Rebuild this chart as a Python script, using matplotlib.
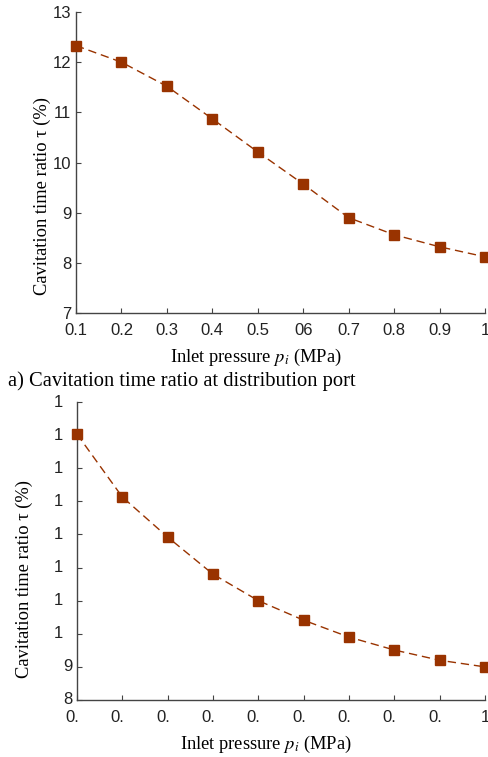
import matplotlib
matplotlib.use("Agg")
import matplotlib.pyplot as plt
from matplotlib.ticker import FixedLocator, FixedFormatter, NullFormatter
from matplotlib.transforms import ScaledTranslation, blended_transform_factory

# inlet pressure (MPa)
pressure = [0.1, 0.2, 0.3, 0.4, 0.5, 0.6, 0.7, 0.8, 0.9, 1.0]

# a) distribution port
ratio_port = [12.33, 12.0, 11.52, 10.87, 10.21, 9.57, 8.90, 8.56, 8.32, 8.12]
# b) second location
ratio_b = [16.03, 14.13, 12.92, 11.80, 11.0, 10.41, 9.90, 9.51, 9.20, 9.0]

top_xlabels = ["0.1", "0.2", "0.3", "0.4", "0.5", "06", "0.7", "0.8", "0.9", "1"]
top_yticks = [7, 8, 9, 10, 11, 12, 13]
bot_yticks = [8, 9, 10, 11, 12, 13, 14, 15, 16, 17]
# the bottom panel's tick labels are clipped in the original
bot_ylabels = ["8", "9", "1", "1", "1", "1", "1", "1", "1", "1"]
bot_xlabels = ["0.", "0.", "0.", "0.", "0.", "0.", "0.", "0.", "0.", "1"]
bot_xfull = ["0.1", "0.2", "0.3", "0.4", "0.5", "0.6", "0.7", "0.8", "0.9", "1"]

plt.rcParams["mathtext.fontset"] = "stix"
serif = "Liberation Serif"
sans = "Liberation Sans"
color = "#993300"
spine_c = "#444444"
tick_fs = 12
lab_fs = 13.3

fig = plt.figure(figsize=(4.89, 7.57), dpi=100)
W, H = 489, 757


def make_axes(l, t, r, b):
    return fig.add_axes([l / W, 1 - b / H, (r - l) / W, (b - t) / H])


def style(ax):
    for s in ["top", "right"]:
        ax.spines[s].set_visible(False)
    for s in ["left", "bottom"]:
        ax.spines[s].set_color(spine_c)
        ax.spines[s].set_linewidth(1.0)
    ax.tick_params(direction="in", length=3.6, width=0.8, color=spine_c,
                   labelcolor="#222222", labelsize=tick_fs)
    ax.tick_params(axis="x", pad=7)
    ax.tick_params(axis="y", pad=3.5)
    for lab in ax.get_xticklabels() + ax.get_yticklabels():
        lab.set_fontfamily(sans)


# width of a string in Liberation Sans (Arial metrics), in points
def str_width(s, fs):
    return sum(0.278 if c == "." else 0.556 for c in s) * fs


ax1 = make_axes(76, 12, 485, 313)
ax1.plot(pressure, ratio_port, "--", color=color, lw=1.0, dashes=(6, 3.5),
         marker="s", ms=6.5, mfc=color, mec=color, clip_on=False, zorder=3)
ax1.set_xlim(0.1, 1.0)
ax1.set_ylim(7, 13)
ax1.xaxis.set_major_locator(FixedLocator(pressure))
ax1.xaxis.set_major_formatter(FixedFormatter(top_xlabels))
ax1.yaxis.set_major_locator(FixedLocator(top_yticks))
ax1.yaxis.set_major_formatter(FixedFormatter([str(v) for v in top_yticks]))
style(ax1)
ax1.set_xlabel(r"Inlet pressure $p_i$ (MPa)", fontfamily=serif, fontsize=lab_fs)
ax1.xaxis.set_label_coords(0.439, -0.113)
ax1.set_ylabel("Cavitation time ratio τ (%)", fontfamily=serif, fontsize=lab_fs)
ax1.yaxis.set_label_coords(-0.062, 0.389)

fig.text(8 / W, 1 - 381 / H, "a) Cavitation time ratio at distribution port",
         fontfamily=serif, fontsize=14.8, va="center", ha="left")

ax2 = make_axes(77, 402, 485, 700)
ax2.plot(pressure, ratio_b, "--", color=color, lw=1.0, dashes=(6, 3.5),
         marker="s", ms=6.5, mfc=color, mec=color, clip_on=False, zorder=3)
ax2.set_xlim(0.1, 1.0)
ax2.set_ylim(8, 17)
ax2.xaxis.set_major_locator(FixedLocator(pressure))
ax2.xaxis.set_major_formatter(NullFormatter())
ax2.yaxis.set_major_locator(FixedLocator(bot_yticks))
ax2.yaxis.set_major_formatter(NullFormatter())
style(ax2)

# clipped labels keep the position the full label would have had
ytr = blended_transform_factory(ax2.transAxes, ax2.transData)
for v, lab in zip(bot_yticks, bot_ylabels):
    off = -(3.5 + str_width(str(v), tick_fs)) / 72
    ax2.text(0, v, lab, transform=ytr + ScaledTranslation(off, 0, fig.dpi_scale_trans),
             ha="left", va="center", fontfamily=sans, fontsize=tick_fs, color="#222222")
xtr = blended_transform_factory(ax2.transData, ax2.transAxes)
for v, lab, full in zip(pressure, bot_xlabels, bot_xfull):
    off = -str_width(full, tick_fs) / 2 / 72
    ax2.text(v, 0, lab, transform=xtr + ScaledTranslation(off, -7 / 72, fig.dpi_scale_trans),
             ha="left", va="top", fontfamily=sans, fontsize=tick_fs, color="#222222")

ax2.set_xlabel(r"Inlet pressure $p_i$ (MPa)", fontfamily=serif, fontsize=lab_fs)
ax2.xaxis.set_label_coords(0.463, -0.112)
ax2.set_ylabel("Cavitation time ratio τ (%)", fontfamily=serif, fontsize=lab_fs)
ax2.yaxis.set_label_coords(-0.108, 0.406)

fig.savefig("out.png", dpi=100)
